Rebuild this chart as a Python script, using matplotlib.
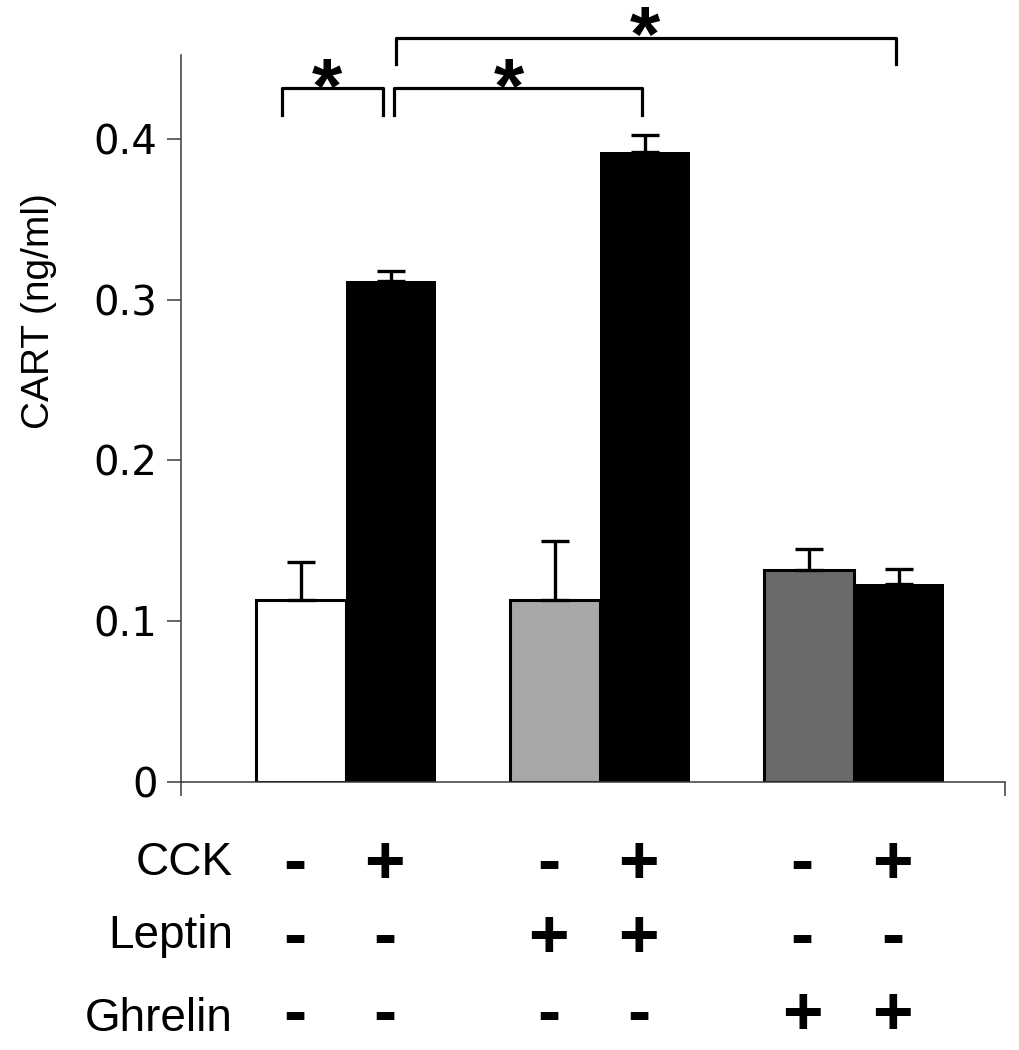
import numpy as np
import matplotlib
matplotlib.use("Agg")
import matplotlib.pyplot as plt
from matplotlib.transforms import blended_transform_factory

# data
means = [0.113, 0.312, 0.113, 0.392, 0.132, 0.123]
sem = [0.024, 0.006, 0.037, 0.011, 0.013, 0.0095]
bar_colors = ['white', 'black', '#a8a8a8', 'black', '#6a6a6a', 'black']
yticks = [0, 0.1, 0.2, 0.3, 0.4]
ytick_labels = ['0', '0.1', '0.2', '0.3', '0.4']

row_names = ['CCK', 'Leptin', 'Ghrelin']
signs = [['-', '+', '-', '+', '-', '+'],
         ['-', '-', '+', '+', '-', '-'],
         ['-', '-', '-', '-', '+', '+']]

# significance brackets: (bar a, bar b, offset a, offset b, top, bottom)
brackets = [(0, 1, -0.21, -0.09, 0.4321, 0.4153),
            (1, 3, 0.03, -0.03, 0.4321, 0.4153),
            (1, 5, 0.06, -0.03, 0.4632, 0.4470)]
# stars: (bar, offset, baseline y)
stars = [(0, 0.29, 0.4162), (1, 1.31, 0.4162), (1, 2.82, 0.4486)]

W, H = 1019, 1050
fig = plt.figure(figsize=(W / 100, H / 100), dpi=100)
ax = fig.add_axes([181 / W, 1 - 781.5 / H, 824 / W, (781.5 - 55) / H])

spacing = 2.82
xpos = []
for g in range(3):
    xpos += [g * spacing - 0.5, g * spacing + 0.5]
xpos = np.array(xpos)

for x, m, c in zip(xpos, means, bar_colors):
    lw = 0 if c == 'black' else 2.2
    ax.bar(x, m, width=1.0, color=c, edgecolor='black', linewidth=lw, zorder=2)

ax.errorbar(xpos, means, yerr=[np.zeros(len(sem)), sem], fmt='none',
            ecolor='black', elinewidth=2.4, capsize=10, capthick=2.4, zorder=3)

ax.set_xlim(-1.833, 7.322)
ax.set_ylim(0, 0.4526)

for s in ['top', 'right']:
    ax.spines[s].set_visible(False)
for s in ['left', 'bottom']:
    ax.spines[s].set_color('#3a3a3a')
    ax.spines[s].set_linewidth(1.1)

ax.set_yticks(yticks)
ax.set_yticklabels(ytick_labels, fontsize=29, family='DejaVu Sans')
ax.set_xticks([-1.833, 7.322])
ax.set_xticklabels([])
ax.tick_params(axis='both', direction='out', length=10, width=1.1, color='#3a3a3a', pad=7)

# brackets and stars
for a, b, oa, ob, top, bot in brackets:
    x0 = xpos[a] + oa
    x1 = xpos[b] + ob
    ax.plot([x0, x0, x1, x1], [bot, top, top, bot], color='black', lw=2.3,
            clip_on=False)
for a, dx, y in stars:
    ax.text(xpos[a] + dx, y, '*', ha='center', va='baseline', fontsize=56,
            fontweight='bold', family='Liberation Sans', clip_on=False)

fig.text(39 / W, 1 - 311 / H, 'CART (ng/ml)', rotation=90, ha='center', va='center',
         fontsize=28, family='Liberation Sans')

# treatment table under the axis
label_base = [875, 948, 1031]
sign_base = [883, 957, 1034]
trans = blended_transform_factory(ax.transData, fig.transFigure)
for r, name in enumerate(row_names):
    fig.text(233 / W, 1 - label_base[r] / H, name, ha='right', va='baseline',
             fontsize=33, family='Liberation Sans')
    for x, s in zip(xpos, signs[r]):
        ax.text(x - 0.07, 1 - sign_base[r] / H, s, transform=trans,
                ha='center', va='baseline', fontsize=50, fontweight='bold',
                family='Liberation Sans')

fig.savefig('out.png', dpi=100)
